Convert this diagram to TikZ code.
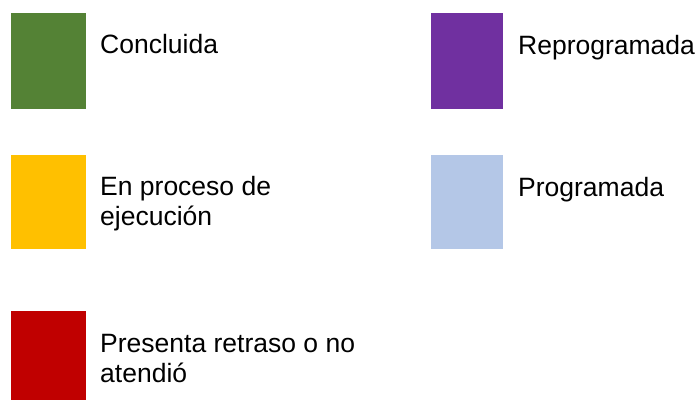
\documentclass[tikz,border=0pt]{standalone}
\usepackage{fontspec}
\setmainfont{Liberation Sans}
\definecolor{verde}{HTML}{548235}
\definecolor{amarillo}{HTML}{FFC000}
\definecolor{rojo}{HTML}{C00000}
\definecolor{morado}{HTML}{7030A0}
\definecolor{celeste}{HTML}{B4C7E7}

\begin{document}
\begin{tikzpicture}[x=1pt,y=-1pt,
    box/.style={anchor=north west,inner sep=0pt,minimum width=75pt,minimum height=96pt},
    lbl/.style={anchor=base west,inner sep=0pt,align=left,font=\fontsize{26.5}{30}\selectfont}]
    \useasboundingbox (0,0) rectangle (697,400);
   
    \node[box,fill=verde] (ca) at (11,13) {};
    \node[box,fill=amarillo,minimum height=94pt] (cb) at (11,155) {};
    \node[box,fill=rojo,minimum height=89pt] (cc) at (11,311) {};
    \node[box,fill=morado,minimum width=72pt] (cd) at (431,13) {};
    \node[box,fill=celeste,minimum width=72pt,minimum height=94pt] (ce) at (431,155) {};
   
    \node[lbl] (la) at (100,53) {Concluida};
    \node[lbl] (lb) at (100,225) {En proceso de\\ejecución};
    \node[lbl] (lc) at (100,382) {Presenta retraso o no\\atendió};
    \node[lbl] (ld) at (518,54) {Reprogramada};
    \node[lbl] (le) at (518,196) {Programada};
   
\end{tikzpicture}
\end{document}
